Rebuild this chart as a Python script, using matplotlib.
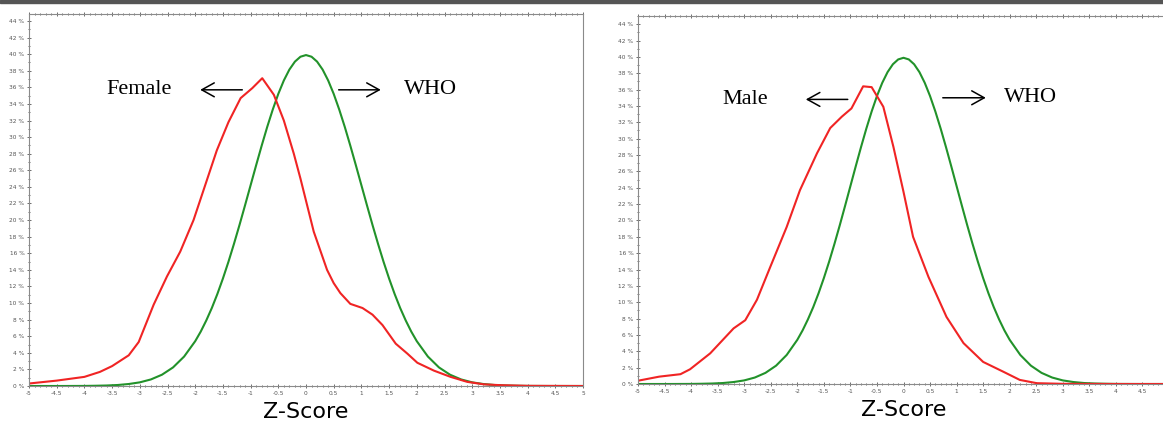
import numpy as np
import matplotlib
matplotlib.use("Agg")
import matplotlib.pyplot as plt
from matplotlib.patches import Rectangle
from matplotlib.ticker import MultipleLocator, FuncFormatter

# WHO reference curve (standard normal), % per z
who_z = [-5, -4.4, -4.0, -3.8, -3.6, -3.4, -3.2, -3.0, -2.8, -2.6, -2.4, -2.2,
         -2.0, -1.9, -1.8, -1.7, -1.6, -1.5, -1.4, -1.3, -1.2, -1.1, -1.0, -0.9, -0.8,
         -0.7, -0.6, -0.5, -0.4, -0.3, -0.2, -0.1, 0.0, 0.1, 0.2, 0.3, 0.4, 0.5, 0.6,
         0.7, 0.8, 0.9, 1.0, 1.1, 1.2, 1.3, 1.4, 1.5, 1.6, 1.7, 1.8, 1.9, 2.0,
         2.2, 2.4, 2.6, 2.8, 3.0, 3.2, 3.4, 3.6, 3.8, 4.0, 4.4, 5]
who_pct = [0.0, 0.0, 0.01, 0.03, 0.06, 0.12, 0.24, 0.44, 0.79, 1.36, 2.24, 3.55,
           5.40, 6.56, 7.90, 9.40, 11.09, 12.95, 14.97, 17.14, 19.42, 21.79, 24.20, 26.61, 28.97,
           31.23, 33.32, 35.21, 36.83, 38.14, 39.10, 39.69, 39.89, 39.69, 39.10, 38.14, 36.83, 35.21, 33.32,
           31.23, 28.97, 26.61, 24.20, 21.79, 19.42, 17.14, 14.97, 12.95, 11.09, 9.40, 7.90, 6.56, 5.40,
           3.55, 2.24, 1.36, 0.79, 0.44, 0.24, 0.12, 0.06, 0.03, 0.01, 0.0, 0.0]

female_z = [-5, -4.5, -4, -3.72, -3.5, -3.2, -3.02, -2.75, -2.51, -2.27, -2.03, -1.79, -1.61,
            -1.4, -1.18, -0.97, -0.79, -0.58, -0.4, -0.22, -0.1, 0.02, 0.14, 0.26, 0.38, 0.5,
            0.62, 0.8, 1.02, 1.2, 1.38, 1.62, 1.83, 2.01, 2.31, 2.61, 2.91, 3.21, 3.51, 4, 5]
female_pct = [0.3, 0.65, 1.1, 1.7, 2.4, 3.7, 5.3, 9.8, 13.2, 16.2, 20.0, 24.8, 28.4,
              31.8, 34.7, 35.9, 37.1, 35.1, 32.0, 28.0, 25.0, 21.8, 18.6, 16.3, 14.0, 12.4,
              11.2, 9.9, 9.4, 8.6, 7.35, 5.1, 3.9, 2.8, 1.85, 1.1, 0.5, 0.2, 0.1, 0.02, 0.0]

male_z = [-5, -4.6, -4.2, -4.02, -3.64, -3.2, -2.98, -2.76, -2.51, -2.2, -1.95, -1.63, -1.38,
          -1.16, -0.98, -0.76, -0.6, -0.38, -0.19, 0.0, 0.18, 0.47, 0.81, 1.13, 1.5, 1.88,
          2.19, 2.51, 3, 4, 5]
male_pct = [0.4, 0.9, 1.2, 1.8, 3.75, 6.8, 7.8, 10.3, 14.3, 19.2, 23.7, 28.2, 31.3,
            32.7, 33.7, 36.4, 36.3, 33.9, 29.0, 23.5, 18.0, 13.1, 8.2, 5.0, 2.7, 1.5,
            0.5, 0.1, 0.02, 0.0, 0.0]

RED = "#f02424"
GREEN = "#22922a"
W, H = 1163, 425

fig = plt.figure(figsize=(W / 100, H / 100), dpi=100)
fig.patches.append(Rectangle((0, 1 - 3 / H), 1, 3 / H, transform=fig.transFigure,
                             color="#555555", zorder=0))

narrow = ["Liberation Sans Narrow", "DejaVu Sans Condensed", "DejaVu Sans"]


def make_axes(x0, x1, ytop, ybot, ymax, last_label=5):
    ax = fig.add_axes([x0 / W, 1 - ybot / H, (x1 - x0) / W, (ybot - ytop) / H])
    ax.set_xlim(-5, 5)
    ax.set_ylim(0, ymax)
    ax.xaxis.set_major_locator(MultipleLocator(0.5))
    ax.xaxis.set_minor_locator(MultipleLocator(0.1))
    ax.yaxis.set_major_locator(MultipleLocator(2))
    ax.yaxis.set_minor_locator(MultipleLocator(1))
    ax.xaxis.set_major_formatter(FuncFormatter(lambda v, p: f"{v:g}" if v <= last_label else ""))
    ax.yaxis.set_major_formatter(FuncFormatter(lambda v, p: f"{v:g} %"))
    ax.tick_params(which="both", direction="inout", colors="#555555", labelsize=4.2,
                   top=True, labeltop=False, right=False, pad=1.5, width=0.6)
    ax.tick_params(which="major", length=3.5)
    ax.tick_params(which="minor", length=1.8)
    for s in ax.spines.values():
        s.set_color("#8a8a8a")
        s.set_linewidth(0.8)
    ax.set_xlabel("Z-Score", fontsize=16, family=narrow, labelpad=5)
    return ax


ax1 = make_axes(29, 583, 13.5, 386, 44.9)
ax1.plot(who_z, who_pct, color=GREEN, lw=1.5)
ax1.plot(female_z, female_pct, color=RED, lw=1.5)

ax2 = make_axes(638, 1169, 16, 384, 45.0, last_label=4.5)
ax2.plot(who_z, who_pct, color=GREEN, lw=1.5)
ax2.plot(male_z, male_pct, color=RED, lw=1.5)

serif = ["Liberation Serif", "DejaVu Serif"]
arrow = dict(arrowstyle="->,head_length=0.9,head_width=0.5", color="black", lw=1.1,
             shrinkA=0, shrinkB=0)

ax1.text(-3.01, 35.7, "Female", fontsize=16, family=serif, ha="center", va="center")
ax1.annotate("", xy=(-1.91, 35.7), xytext=(-1.15, 35.7), arrowprops=arrow)
ax1.annotate("", xy=(1.35, 35.7), xytext=(0.59, 35.7), arrowprops=arrow)
ax1.text(2.25, 35.7, "WHO", fontsize=16, family=serif, ha="center", va="center")

ax2.text(-2.98, 34.8, "Male", fontsize=16, family=serif, ha="center", va="center")
ax2.annotate("", xy=(-1.84, 34.8), xytext=(-1.05, 34.8), arrowprops=arrow)
ax2.annotate("", xy=(1.55, 35.0), xytext=(0.74, 35.0), arrowprops=arrow)
ax2.text(2.40, 35.0, "WHO", fontsize=16, family=serif, ha="center", va="center")

fig.savefig("out.png", dpi=100)
